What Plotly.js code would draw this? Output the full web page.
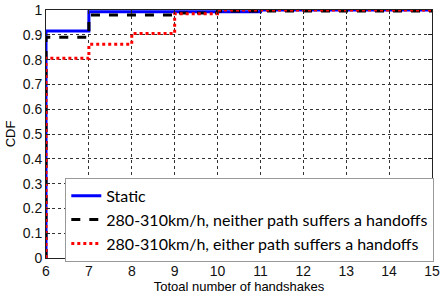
<!DOCTYPE html>
<html>
<head>
<meta charset="utf-8">
<script src="https://cdn.plot.ly/plotly-3.0.1.min.js"></script>
<style>html,body{margin:0;padding:0;background:#fff;}#chart{width:441px;height:295px;}</style>
</head>
<body>
<div id="chart"></div>
<script>
var seriesNames = ["Static", "280-310km/h, neither path suffers a handoffs", "280-310km/h, either path suffers a handoffs"];
var staticX = [6, 6, 7, 11, 15];
var staticY = [0, 0.915, 0.993, 1, 1];
var neitherX = [6, 6, 7, 9, 10, 15];
var neitherY = [0, 0.89, 0.98, 0.988, 0.996, 0.996];
var eitherX = [6, 6, 7, 8, 9, 10, 15];
var eitherY = [0, 0.805, 0.862, 0.905, 0.985, 1, 1];
var xTicks = [6, 7, 8, 9, 10, 11, 12, 13, 14, 15];
var yTicks = [0, 0.1, 0.2, 0.3, 0.4, 0.5, 0.6, 0.7, 0.8, 0.9, 1];
var yTickText = ["0", "0.1", "0.2", "0.3", "0.4", "0.5", "0.6", "0.7", "0.8", "0.9", "1"];

var traces = [
  {x: staticX, y: staticY, name: seriesNames[0], mode: "lines", line: {shape: "hv", color: "#0000ff", width: 3}},
  {x: neitherX, y: neitherY, name: seriesNames[1], mode: "lines", line: {shape: "hv", color: "#000000", width: 3, dash: "dash"}},
  {x: eitherX, y: eitherY, name: seriesNames[2], mode: "lines", line: {shape: "hv", color: "#ff0000", width: 3, dash: "dot"}}
];

var axisCommon = {
  showline: true, linecolor: "#222", linewidth: 1, mirror: "ticks",
  ticks: "inside", ticklen: 4, tickcolor: "#222",
  showgrid: true, gridcolor: "#333", griddash: "dot", gridwidth: 1,
  zeroline: false, ticklabeloverflow: "allow",
  tickfont: {family: "Liberation Sans, Arial, sans-serif", size: 14, color: "#111"}
};

var layout = {
  width: 441, height: 295,
  margin: {l: 46, r: 9, t: 10, b: 37, autoexpand: false},
  paper_bgcolor: "#fff", plot_bgcolor: "#fff",
  showlegend: true,
  legend: {
    x: 0.05, y: 0.323, xanchor: "left", yanchor: "top",
    bgcolor: "#fff", bordercolor: "#999", borderwidth: 1,
    font: {family: "Lato, Noto Sans, sans-serif", size: 16, color: "#000"},
    tracegroupgap: 0
  },
  xaxis: Object.assign({}, axisCommon, {
    range: [6, 15], tickvals: xTicks, ticktext: xTicks.map(String),
    title: {text: "Totoal number of handshakes", standoff: 2, font: {family: "Liberation Sans, Arial, sans-serif", size: 13, color: "#000"}}
  }),
  yaxis: Object.assign({}, axisCommon, {
    range: [0, 1], tickvals: yTicks, ticktext: yTickText,
    title: {text: "CDF", standoff: 4, font: {family: "Liberation Sans, Arial, sans-serif", size: 13, color: "#000"}}
  })
};

Plotly.newPlot("chart", traces, layout, {displayModeBar: false, staticPlot: true});
</script>
</body>
</html>
